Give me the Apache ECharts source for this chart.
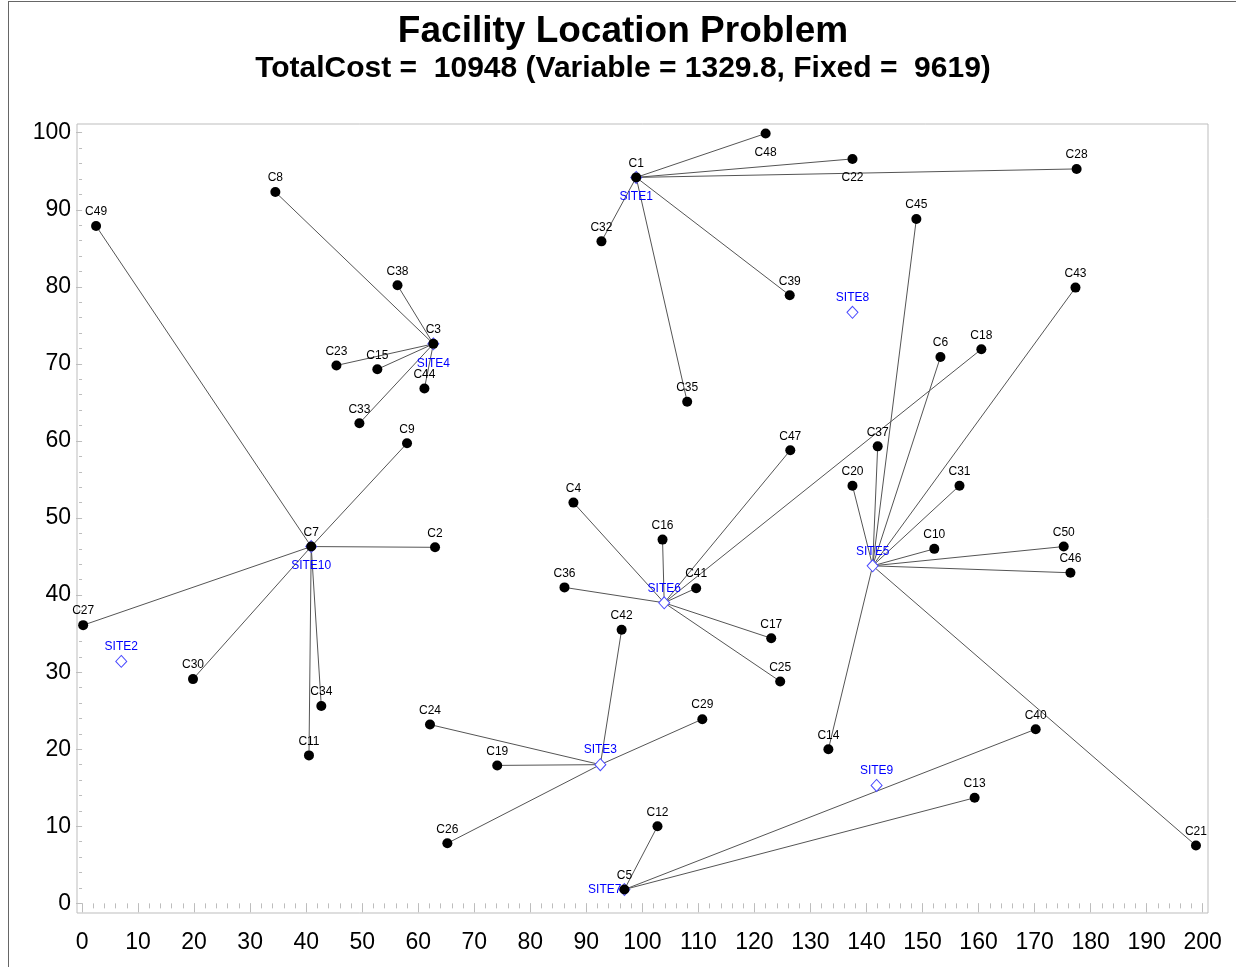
<!DOCTYPE html>
<html>
<head>
<meta charset="utf-8">
<script src="https://cdn.jsdelivr.net/npm/echarts@6/dist/echarts.min.js"></script>
<style>
  html, body { margin: 0; padding: 0; background: #fff; }
  #frame { position: absolute; left: 8px; top: 1px; width: 1228px; height: 966px;
           border-left: 1px solid #666; border-top: 1px solid #666; }
  #chart { position: absolute; left: 0; top: 0; width: 1236px; height: 967px; }
</style>
</head>
<body>
<div id="frame"></div>
<div id="chart"></div>
<script>
// customers
var custNames = ['C1','C2','C3','C4','C5','C6','C7','C8','C9','C10',
  'C11','C12','C13','C14','C15','C16','C17','C18','C19','C20',
  'C21','C22','C23','C24','C25','C26','C27','C28','C29','C30',
  'C31','C32','C33','C34','C35','C36','C37','C38','C39','C40',
  'C41','C42','C43','C44','C45','C46','C47','C48','C49','C50'];
var custX = [98.9, 63.0, 62.7, 87.7, 96.8, 153.2, 40.9, 34.5, 58.0, 152.1,
  40.5, 102.7, 159.3, 133.2, 52.7, 103.6, 123.0, 160.5, 74.1, 137.5,
  198.8, 137.5, 45.4, 62.1, 124.6, 65.2, 0.2, 177.5, 110.7, 19.8,
  156.6, 92.7, 49.5, 42.7, 108.0, 86.1, 142.0, 56.3, 126.3, 170.2,
  109.6, 96.3, 177.3, 61.1, 148.9, 176.4, 126.4, 122.0, 2.5, 175.2];
var custY = [94.2, 46.2, 72.6, 52.0, 1.8, 70.9, 46.3, 92.3, 59.7, 46.0,
  19.2, 10.0, 13.7, 20.0, 69.3, 47.2, 34.4, 71.9, 17.9, 54.2,
  7.5, 96.6, 69.8, 23.2, 28.8, 7.8, 36.1, 95.3, 23.9, 29.1,
  54.2, 85.9, 62.3, 25.6, 65.1, 41.0, 59.3, 80.2, 78.9, 22.6,
  40.9, 35.5, 79.9, 66.8, 88.8, 42.9, 58.8, 99.9, 87.9, 46.3];
// which site serves each customer (1-based site number)
var custSite = [1, 10, 4, 6, 7, 5, 10, 4, 10, 5,
  10, 7, 7, 5, 4, 6, 6, 6, 3, 5,
  5, 1, 4, 3, 6, 3, 10, 1, 3, 10,
  5, 1, 4, 10, 1, 6, 5, 4, 1, 7,
  6, 3, 5, 4, 5, 5, 6, 1, 10, 5];

// candidate sites
var siteNames = ['SITE1','SITE2','SITE3','SITE4','SITE5','SITE6','SITE7','SITE8','SITE9','SITE10'];
var siteX = [98.9, 7.0, 92.5, 62.7, 141.1, 103.9, 96.8, 137.5, 141.8, 40.9];
var siteY = [94.2, 31.4, 18.0, 72.6, 43.8, 39.0, 1.8, 76.7, 15.3, 46.3];

var xLabels = [0,10,20,30,40,50,60,70,80,90,100,110,120,130,140,150,160,170,180,190,200];
var yLabels = [0,10,20,30,40,50,60,70,80,90,100];

var titleText = 'Facility Location Problem';
var subText = 'TotalCost =  10948 (Variable = 1329.8, Fixed =  9619)';

var xMinor = [], yMinor = [];
for (var v = 0; v <= 200; v += 2) xMinor.push(v);
for (var w = 0; w <= 100; w += 2) yMinor.push(w);

var labelBelowCust = { C48: true, C22: true };
var labelBelowSite = { SITE1: true, SITE4: true, SITE10: true };
var labelLeftSite = { SITE7: true };

var edges = custNames.map(function (n, i) {
  var s = custSite[i] - 1;
  return { coords: [[siteX[s], siteY[s]], [custX[i], custY[i]]] };
});

var custData = custNames.map(function (n, i) {
  var below = labelBelowCust[n];
  return {
    name: n, value: [custX[i], custY[i]],
    label: { position: below ? 'bottom' : 'top', distance: below ? 8 : 3 }
  };
});

var siteData = siteNames.map(function (n, i) {
  var pos = labelLeftSite[n] ? 'left' : (labelBelowSite[n] ? 'bottom' : 'top');
  return {
    name: n, value: [siteX[i], siteY[i]],
    label: { position: pos, distance: labelLeftSite[n] ? -3 : (labelBelowSite[n] ? 7 : 2) }
  };
});

var chart = echarts.init(document.getElementById('chart'), null, { renderer: 'canvas' });

var axisGray = '#bdbdbd';
var font = 'Liberation Sans';

var option = {
  animation: false,
  backgroundColor: 'transparent',
  title: [
    { text: titleText, left: 618, textAlign: 'center', top: 8,
      textStyle: { fontFamily: font, fontSize: 37, fontWeight: 'bold', color: '#000' } },
    { text: subText, left: 618, textAlign: 'center', top: 49,
      textStyle: { fontFamily: font, fontSize: 30, fontWeight: 'bold', color: '#000' } }
  ],
  grid: { left: 77, right: 28, top: 124, bottom: 54, show: true,
          borderColor: axisGray, borderWidth: 1, backgroundColor: '#fff' },
  xAxis: [
    { type: 'value', min: -0.9, max: 200.95, position: 'bottom',
      splitLine: { show: false }, axisLine: { show: false },
      axisTick: { show: true, customValues: xLabels, length: 9, lineStyle: { color: axisGray } },
      axisLabel: { customValues: xLabels, margin: 18, fontFamily: font, fontSize: 23, color: '#000' } },
    { type: 'value', min: -0.9, max: 200.95, position: 'bottom',
      splitLine: { show: false }, axisLine: { show: false },
      axisTick: { show: true, customValues: xMinor, length: 5, lineStyle: { color: axisGray } },
      axisLabel: { show: false } }
  ],
  yAxis: [
    { type: 'value', min: -1.25, max: 101.13, position: 'left',
      splitLine: { show: false }, axisLine: { show: false },
      axisTick: { show: true, customValues: yLabels, length: 6, lineStyle: { color: axisGray } },
      axisLabel: { customValues: yLabels, margin: 6, fontFamily: font, fontSize: 23, color: '#000' } },
    { type: 'value', min: -1.25, max: 101.13, position: 'left',
      splitLine: { show: false }, axisLine: { show: false },
      axisTick: { show: true, customValues: yMinor, length: 3, lineStyle: { color: axisGray } },
      axisLabel: { show: false } }
  ],
  series: [
    {
      type: 'lines', coordinateSystem: 'cartesian2d', xAxisIndex: 0, yAxisIndex: 0,
      silent: true, z: 1,
      lineStyle: { color: '#555', width: 1, opacity: 1 },
      data: edges
    },
    {
      type: 'scatter', name: 'sites', xAxisIndex: 0, yAxisIndex: 0, z: 2,
      symbol: 'diamond', symbolSize: [11, 12],
      itemStyle: { color: '#fff', borderColor: '#4a4aff', borderWidth: 1, opacity: 1 },
      label: { show: true, formatter: '{b}', fontFamily: font, fontSize: 12, color: '#0000ff' },
      data: siteData
    },
    {
      type: 'scatter', name: 'customers', xAxisIndex: 0, yAxisIndex: 0, z: 3,
      symbol: 'circle', symbolSize: 10,
      itemStyle: { color: '#000', opacity: 1 },
      label: { show: true, formatter: '{b}', fontFamily: font, fontSize: 12, color: '#000' },
      data: custData
    }
  ]
};
chart.setOption(option);
</script>
</body>
</html>
